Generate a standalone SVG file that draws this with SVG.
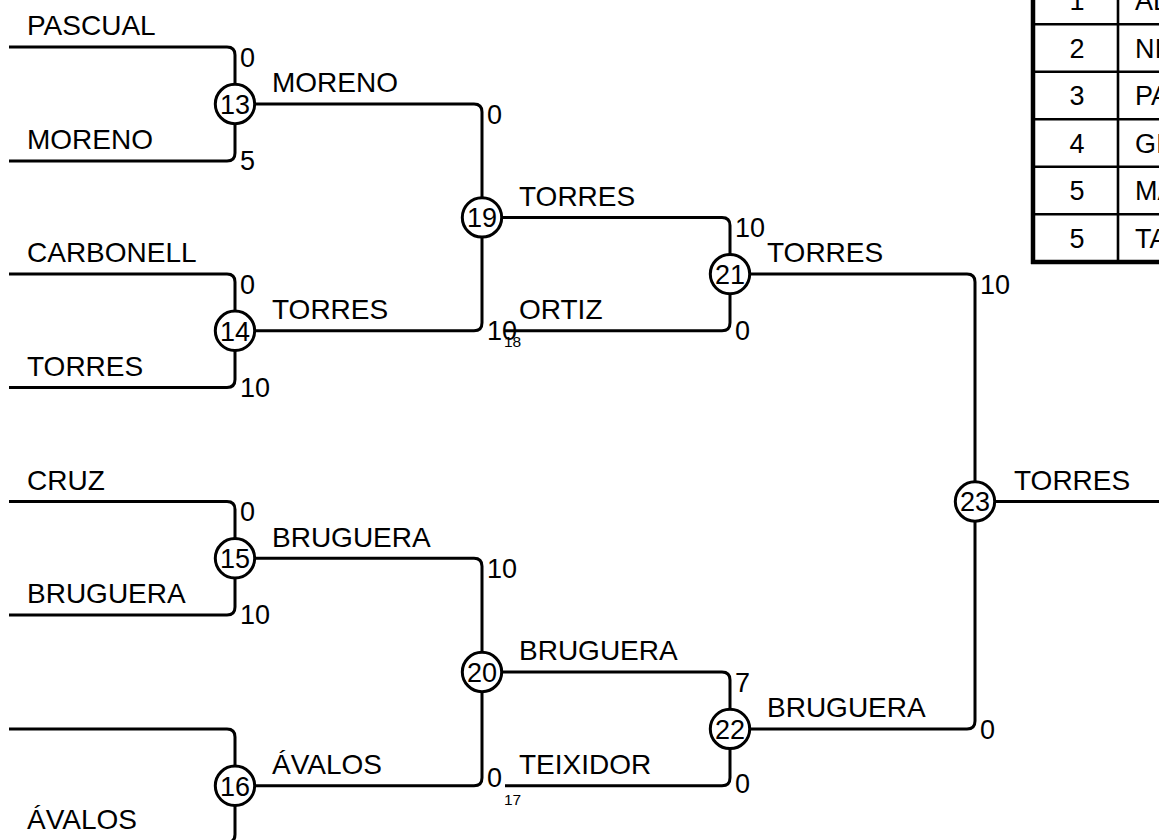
<svg xmlns="http://www.w3.org/2000/svg" width="1159" height="840" viewBox="0 0 1159 840">
<style>
  .ln{fill:none;stroke:#000;stroke-width:3;stroke-linejoin:round}
  .nd{fill:#fff;stroke:#000;stroke-width:3}
  .t{font-family:"Liberation Sans",Arial,sans-serif;fill:#000}
  .nm{font-size:28px}
  .sc{font-size:27px}
  .num{font-size:27px;text-anchor:middle}
  .sm{font-size:15.5px}
  .tb{stroke:#000;fill:none}
</style>
<rect width="1159" height="840" fill="#fff"/>
<g id="connectors">
  <path class="ln" d="M9,47 H227 Q235,47 235,55 V153 Q235,161 227,161 H9"/>
  <path class="ln" d="M9,274 H227 Q235,274 235,282 V379.5 Q235,387.5 227,387.5 H9"/>
  <path class="ln" d="M9,501.5 H227 Q235,501.5 235,509.5 V607 Q235,615 227,615 H9"/>
  <path class="ln" d="M9,729 H227 Q235,729 235,737 V834.5 Q235,842.5 227,842.5 H9"/>
  <path class="ln" d="M235,104 H474 Q482,104 482,112 V322.8 Q482,330.8 474,330.8 H235"/>
  <path class="ln" d="M235,558.3 H474 Q482,558.3 482,566.3 V777.8 Q482,785.8 474,785.8 H235"/>
  <path class="ln" d="M482,217.4 H722 Q730,217.4 730,225.4 V322.8 Q730,330.8 722,330.8 H505"/>
  <path class="ln" d="M482,672 H722 Q730,672 730,680 V777.8 Q730,785.8 722,785.8 H505"/>
  <path class="ln" d="M730,274.1 H967 Q975,274.1 975,282.1 V720.9 Q975,728.9 967,728.9 H730"/>
  <path class="ln" d="M975,501.5 H1159"/>
</g>
<g id="match13"><circle class="nd" cx="235" cy="104" r="19.7"/><text class="t num" x="235" y="113.8">13</text></g>
<g id="match14"><circle class="nd" cx="235" cy="330.8" r="19.7"/><text class="t num" x="235" y="340.6">14</text></g>
<g id="match15"><circle class="nd" cx="235" cy="558.3" r="19.7"/><text class="t num" x="235" y="568.1">15</text></g>
<g id="match16"><circle class="nd" cx="235" cy="785.8" r="19.7"/><text class="t num" x="235" y="795.6">16</text></g>
<g id="match19"><circle class="nd" cx="482" cy="217.4" r="19.7"/><text class="t num" x="482" y="227.2">19</text></g>
<g id="match20"><circle class="nd" cx="482" cy="672" r="19.7"/><text class="t num" x="482" y="681.8">20</text></g>
<g id="match21"><circle class="nd" cx="730" cy="274.1" r="19.7"/><text class="t num" x="730" y="283.9">21</text></g>
<g id="match22"><circle class="nd" cx="730" cy="728.9" r="19.7"/><text class="t num" x="730" y="738.7">22</text></g>
<g id="match23"><circle class="nd" cx="975" cy="501.5" r="19.7"/><text class="t num" x="975" y="511.3">23</text></g>
<g id="names" class="t nm">
  <text x="27" y="35">PASCUAL</text>
  <text x="27" y="149">MORENO</text>
  <text x="27" y="262">CARBONELL</text>
  <text x="27" y="375.5">TORRES</text>
  <text x="27" y="489.5">CRUZ</text>
  <text x="27" y="603">BRUGUERA</text>
  <text x="27" y="829">ÁVALOS</text>
  <text x="272" y="92">MORENO</text>
  <text x="272" y="319">TORRES</text>
  <text x="272" y="546.5">BRUGUERA</text>
  <text x="272" y="774">ÁVALOS</text>
  <text x="519" y="205.5">TORRES</text>
  <text x="519" y="319">ORTIZ</text>
  <text x="519" y="660">BRUGUERA</text>
  <text x="519" y="774">TEIXIDOR</text>
  <text x="767" y="262">TORRES</text>
  <text x="767" y="717">BRUGUERA</text>
  <text x="1014" y="489.5">TORRES</text>
</g>
<g id="scores" class="t sc">
  <text x="240" y="66.5">0</text>
  <text x="240" y="170">5</text>
  <text x="240" y="293.5">0</text>
  <text x="240" y="397">10</text>
  <text x="240" y="521">0</text>
  <text x="240" y="624">10</text>
  <text x="487" y="123.5">0</text>
  <text x="487" y="340">10</text>
  <text x="487" y="578">10</text>
  <text x="487" y="787">0</text>
  <text x="735" y="237">10</text>
  <text x="735" y="340">0</text>
  <text x="735" y="691.5">7</text>
  <text x="735" y="793">0</text>
  <text x="980" y="293.5">10</text>
  <text x="980" y="739">0</text>
  <text class="sm" x="504" y="347">18</text>
  <text class="sm" x="504" y="805">17</text>
</g>
<g id="ranking">
  <rect x="1033" y="-30" width="140" height="292" fill="#fff"/>
  <g class="tb" stroke-width="2.6">
    <line x1="1033" y1="24.3" x2="1159" y2="24.3"/>
    <line x1="1033" y1="71.8" x2="1159" y2="71.8"/>
    <line x1="1033" y1="119.3" x2="1159" y2="119.3"/>
    <line x1="1033" y1="166.8" x2="1159" y2="166.8"/>
    <line x1="1033" y1="214.3" x2="1159" y2="214.3"/>
    <line x1="1118" y1="-30" x2="1118" y2="262"/>
  </g>
  <g class="tb" stroke-width="4.5">
    <line x1="1033" y1="-30" x2="1033" y2="264"/>
    <line x1="1031" y1="262" x2="1159" y2="262"/>
  </g>
  <g class="t sc">
    <text x="1077" y="10" text-anchor="middle">1</text>
    <text x="1077" y="57.5" text-anchor="middle">2</text>
    <text x="1077" y="105" text-anchor="middle">3</text>
    <text x="1077" y="152.5" text-anchor="middle">4</text>
    <text x="1077" y="200" text-anchor="middle">5</text>
    <text x="1077" y="247.5" text-anchor="middle">5</text>
    <text x="1135" y="10">AL</text>
    <text x="1135" y="57.5">NI</text>
    <text x="1135" y="105">PA</text>
    <text x="1135" y="152.5">GI</text>
    <text x="1135" y="200">MA</text>
    <text x="1135" y="247.5">TA</text>
  </g>
</g>
</svg>
